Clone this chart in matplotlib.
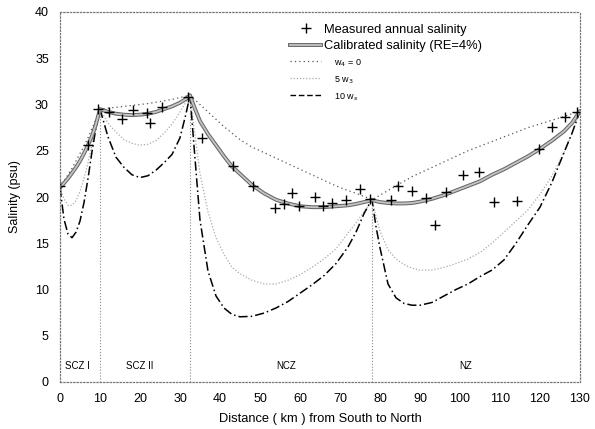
import matplotlib.pyplot as plt
from matplotlib.lines import Line2D

plt.rcParams['font.family'] = ['Liberation Sans', 'DejaVu Sans']

# 観測値（年平均塩分）
meas_x = [0, 6.9, 9.6, 12.3, 15.4, 18.3, 21.7, 22.5, 25.6, 32.1, 35.4, 43.2, 48.3,
          53.8, 56.1, 58.1, 59.8, 63.8, 65.8, 67.9, 71.5, 75.0, 77.5, 82.7, 84.6,
          88.1, 91.5, 93.8, 96.5, 100.8, 104.8, 108.5, 114.2, 119.8, 123.1, 126.3, 129.3]
meas_y = [21.2, 25.6, 29.5, 29.2, 28.4, 29.4, 29.1, 28.0, 29.7, 30.8, 26.4, 23.3, 21.2,
          18.8, 19.2, 20.4, 19.0, 20.0, 19.0, 19.4, 19.7, 20.9, 19.8, 19.7, 21.2,
          20.6, 19.9, 17.0, 20.5, 22.4, 22.7, 19.5, 19.6, 25.2, 27.6, 28.6, 29.2]

# 計算値の距離
dist = [0, 1, 2, 3, 4, 5, 6, 7, 8, 9, 10,
        12, 14, 16, 18, 20, 22, 24, 26, 28, 30, 31.5, 32.5,
        33.5, 35, 37, 39, 41, 43, 45, 48, 51, 54, 57, 60, 63, 66, 69, 72, 74, 76, 77, 78,
        79, 80, 82, 84, 86, 88, 90, 93, 96, 99, 102, 105, 108, 111, 114, 117, 120, 123,
        126, 128, 130]

# 校正後の塩分
cal = [21.0, 21.5, 22.0, 22.6, 23.2, 23.9, 24.7, 25.6, 26.6, 27.9, 29.5,
       29.2, 29.0, 28.9, 28.85, 28.9, 29.0, 29.2, 29.5, 29.8, 30.2, 30.6, 31.0,
       29.8, 28.2, 26.8, 25.6, 24.4, 23.3, 22.5, 21.3, 20.4, 19.7, 19.3, 19.0, 18.9,
       18.9, 19.0, 19.1, 19.25, 19.45, 19.55, 19.7,
       19.55, 19.45, 19.35, 19.3, 19.3, 19.35, 19.5, 19.8, 20.2, 20.7, 21.2, 21.7,
       22.4, 23.0, 23.7, 24.4, 25.2, 26.1, 27.1, 28.0, 29.3]

# w4 = 0
w0 = [21.0, 21.7, 22.4, 23.1, 23.9, 24.7, 25.5, 26.4, 27.4, 28.4, 29.5,
      29.6, 29.7, 29.8, 29.9, 30.0, 30.1, 30.25, 30.4, 30.55, 30.75, 30.9, 31.0,
      30.6, 30.0, 29.2, 28.4, 27.6, 26.9, 26.2, 25.4, 24.8, 24.2, 23.6, 23.0, 22.4,
      21.8, 21.2, 20.7, 20.4, 20.05, 19.9, 19.7,
      19.95, 20.2, 20.7, 21.2, 21.7, 22.2, 22.6, 23.2, 23.8, 24.4, 25.0, 25.5,
      26.0, 26.5, 27.0, 27.5, 27.9, 28.3, 28.7, 29.0, 29.3]

# 5 w3
w5 = [21.0, 19.8, 19.1, 19.1, 19.6, 20.6, 22.0, 23.7, 25.6, 27.5, 29.5,
      28.0, 27.0, 26.2, 25.8, 25.6, 25.7, 26.1, 26.9, 27.9, 29.2, 30.3, 31.0,
      27.5, 22.5, 18.4, 15.6, 13.8, 12.4, 11.7, 11.0, 10.6, 10.6, 11.0, 11.6, 12.4,
      13.3, 14.4, 16.1, 17.2, 18.4, 19.0, 19.7,
      17.9, 16.3, 14.3, 13.3, 12.7, 12.3, 12.1, 12.1, 12.4, 12.8, 13.3, 14.0,
      15.0, 16.2, 17.4, 18.6, 20.3, 22.3, 24.8, 26.8, 29.3]

# 10 w3
w10 = [21.0, 17.6, 16.0, 15.6, 16.2, 17.4, 19.4, 22.0, 24.9, 27.5, 29.5,
       26.5, 24.3, 23.2, 22.4, 22.1, 22.3, 22.9, 23.7, 24.6, 26.4, 29.0, 31.0,
       25.5, 17.5, 12.0, 9.3, 8.0, 7.3, 7.05, 7.1, 7.45, 8.0, 8.7, 9.6, 10.5,
       11.5, 12.8, 14.6, 16.2, 18.2, 19.0, 19.7,
       16.8, 14.5, 10.6, 9.1, 8.5, 8.3, 8.3, 8.6, 9.3, 10.0, 10.6, 11.4,
       12.1, 13.2, 15.0, 17.0, 18.9, 21.6, 24.8, 26.9, 29.3]

# 区域の境界と名前
bound_x = [10, 32.5, 78]
bound_top = [29.5, 31.0, 19.7]
zone_x = [4.3, 20, 56.5, 101.5]
zone_names = ["SCZ I", "SCZ II", "NCZ", "NZ"]

fig = plt.figure(figsize=(5.95, 4.29), dpi=100)
ax = fig.add_axes([60 / 595, 1 - 382 / 429, 520 / 595, 370 / 429])

ax.vlines(bound_x, 0, bound_top, colors="#888888", linestyles=":", linewidth=0.8)

ax.plot(dist, w0, color="#555555", linestyle=(0, (1, 2.5)), linewidth=0.9)
ax.plot(dist, w5, color="#aaaaaa", linestyle=(0, (1, 1.5)), linewidth=0.9)
ax.plot(dist, w10, color="black", linestyle=(0, (6, 2, 1, 2)), linewidth=1.1)
ax.plot(dist, cal, color="#666666", linewidth=2.8, solid_capstyle="round")
ax.plot(dist, cal, color="#c4c4c4", linewidth=1.3, solid_capstyle="round")
ax.plot(meas_x, meas_y, "+", color="black", markersize=7, markeredgewidth=1.0)

for zx, name in zip(zone_x, zone_names):
    ax.text(zx, 1.2, name, fontsize=7, ha="center", va="bottom")

ax.set_xlim(0, 130)
ax.set_ylim(0, 40)
ax.set_xticks(range(0, 131, 10))
ax.set_yticks(range(0, 41, 5))
ax.tick_params(length=0, labelsize=9, pad=8)
for sp in ax.spines.values():
    sp.set_linestyle(":")
    sp.set_color("#777777")
    sp.set_linewidth(0.9)
ax.set_xlabel("Distance ( km ) from South to North", fontsize=9.3, labelpad=6)
ax.set_ylabel("Salinity (psu)", fontsize=9, labelpad=10)

# 凡例
h_meas = Line2D([], [], color="black", marker="+", linestyle="none", markersize=7,
                markeredgewidth=1.0)
h_cal = (Line2D([], [], color="#666666", linewidth=2.8),
         Line2D([], [], color="#c4c4c4", linewidth=1.3))
h_w0 = Line2D([], [], color="#555555", linestyle=(0, (1, 2.5)), linewidth=0.9)
h_w5 = Line2D([], [], color="#aaaaaa", linestyle=(0, (1, 1.5)), linewidth=0.9)
h_w10 = Line2D([], [], color="black", linestyle=(0, (4, 2)), linewidth=1.0)
leg = ax.legend([h_meas, h_cal, h_w0, h_w5, h_w10],
                ["Measured annual salinity", "Calibrated salinity (RE=4%)",
                 "    w$_4$ = 0", "    5 w$_3$", "    10 w$_s$"],
                loc="upper left", bbox_to_anchor=(0.42, 1.0), frameon=False,
                fontsize=9.3, handlelength=2.4, handletextpad=0.2,
                labelspacing=0.35)
for t in leg.get_texts()[2:]:
    t.set_fontsize(6.5)

fig.savefig("out.png", dpi=100)
